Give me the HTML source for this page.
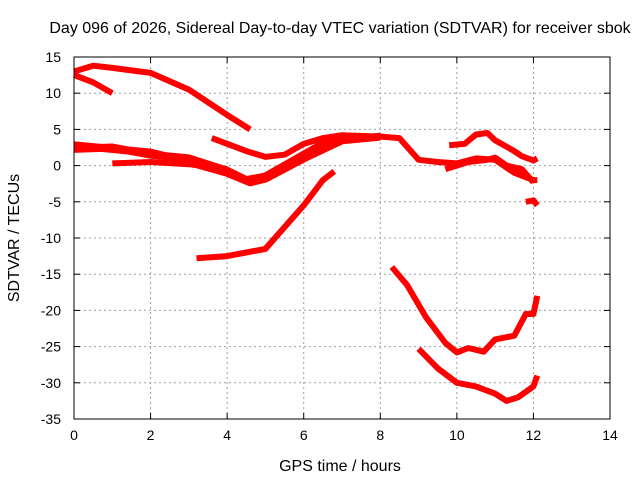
<!DOCTYPE html>
<html><head><meta charset="utf-8"><style>
body{margin:0;background:#fff}
svg{display:block;font-family:"Liberation Sans",sans-serif}
</style></head><body>
<svg id="chart" width="640" height="480" xmlns="http://www.w3.org/2000/svg">
<rect width="640" height="480" fill="#fff"/>
<text x="340" y="33" font-size="16" text-anchor="middle">Day 096 of 2026, Sidereal Day-to-day VTEC variation (SDTVAR) for receiver sbok</text>
<text x="340" y="471" font-size="16" text-anchor="middle">GPS time / hours</text>
<text transform="translate(19,238) rotate(-90)" font-size="16" text-anchor="middle">SDTVAR / TECUs</text>
<g id="grid"></g>
<g id="ticks"></g>
<g id="series"></g>
<rect x="74" y="57" width="536" height="362" fill="none" stroke="#000" stroke-width="1"/>
</svg>
<script>
const xTicks=[0,2,4,6,8,10,12,14];
const yTicks=[15,10,5,0,-5,-10,-15,-20,-25,-30,-35];
const trace1x=[0,0.5,1,2,3,4,4.6];
const trace1y=[13,13.8,13.5,12.8,10.5,7,5];
const trace2x=[0,0.5,1];
const trace2y=[12.5,11.5,10];
const trace3x=[3.6,4.5,5,5.5,6,6.5,7,8,8.5,9,9.5,10,10.5,11,11.5,12,12.1];
const trace3y=[3.8,2,1.2,1.5,3,3.8,4.2,4,3.8,0.8,0.5,0.3,1,0.8,-1,-2,-2];
const trace4x=[0,1,2,3,4,4.5,5,6,6.5,7,8];
const trace4y=[2.3,2.5,1.5,1,-0.7,-2,-1.5,1.5,3,3.5,4];
const trace5x=[0,2,3,4,4.6,5,6,7];
const trace5y=[2.8,1.8,0.5,-1,-2.3,-1.8,1,3.5];
const trace6x=[1,2,3,4];
const trace6y=[0.3,0.5,0.2,-0.5];
const trace7x=[3.2,4,4.5,5,6,6.5,6.8];
const trace7y=[-12.8,-12.5,-12,-11.5,-5.5,-2,-0.8];
const trace8x=[8.3,8.7,9.2,9.7,10,10.3,10.7,11,11.5,11.8,12,12.1];
const trace8y=[-14,-16.5,-21,-24.5,-25.8,-25.2,-25.7,-24,-23.5,-20.5,-20.5,-18];
const trace9x=[9,9.5,10,10.5,11,11.3,11.6,12,12.1];
const trace9y=[-25.3,-28,-30,-30.5,-31.5,-32.5,-32,-30.5,-29];
const trace10x=[9.8,10.2,10.5,10.8,11,11.5,11.7,12,12.1];
const trace10y=[2.8,3,4.3,4.5,3.5,2,1.3,0.7,1];
const trace11x=[9.7,10.3,10.8,11,11.3,11.7,12];
const trace11y=[-0.5,0.5,0.8,1.1,0,-0.5,-2.3];
const trace12x=[11.8,12,12.1];
const trace12y=[-5,-4.8,-5.5];
const traces=[[trace1x,trace1y],[trace2x,trace2y],[trace3x,trace3y],[trace4x,trace4y],[trace5x,trace5y],[trace6x,trace6y],[trace7x,trace7y],[trace8x,trace8y],[trace9x,trace9y],[trace10x,trace10y],[trace11x,trace11y],[trace12x,trace12y]];
const X0=74,X1=610,Y0=419,Y1=57;
const sx=v=>X0+(v-0)/(14-0)*(X1-X0);
const sy=v=>Y0-(v-(-35))/(15-(-35))*(Y0-Y1);
const NS="http://www.w3.org/2000/svg";
const grid=document.getElementById('grid'),ticks=document.getElementById('ticks'),ser=document.getElementById('series');
function mk(tag,attrs,parent){const e=document.createElementNS(NS,tag);for(const k in attrs)e.setAttribute(k,attrs[k]);parent.appendChild(e);return e;}
xTicks.forEach(t=>{const x=sx(t);
 if(t>0&&t<14){const g=mk('line',{x1:x,x2:x,y1:Y1,y2:Y0,stroke:'#a0a0a0','stroke-dasharray':'2,3'},grid);
 
 }
 mk('line',{x1:x,x2:x,y1:Y0,y2:Y0-6,stroke:'#000'},ticks);mk('line',{x1:x,x2:x,y1:Y1,y2:Y1+6,stroke:'#000'},ticks);
 const l=mk('text',{x:x,y:Y0+21,'font-size':14,'text-anchor':'middle'},ticks);l.textContent=t;
 
 });
yTicks.forEach(t=>{const y=sy(t);
 if(t<15&&t>-35){const g=mk('line',{x1:X0,x2:X1,y1:y,y2:y,stroke:'#a0a0a0','stroke-dasharray':'2,3'},grid);
 
 }
 mk('line',{x1:X0,x2:X0+6,y1:y,y2:y,stroke:'#000'},ticks);mk('line',{x1:X1,x2:X1-6,y1:y,y2:y,stroke:'#000'},ticks);
 const l=mk('text',{x:X0-13,y:y+5,'font-size':14,'text-anchor':'end'},ticks);l.textContent=t;
 
 });
traces.forEach(([xs,ys],i)=>{const pts=xs.map((v,j)=>sx(v).toFixed(1)+','+sy(ys[j]).toFixed(1)).join(' ');
 const w=(i===3||i===4)?8:6;
 const p=mk('polyline',{points:pts,fill:'none',stroke:'#ff0000','stroke-width':w,'stroke-linejoin':'round','stroke-linecap':'butt'},ser);
 
 });
</script>
</body></html>
